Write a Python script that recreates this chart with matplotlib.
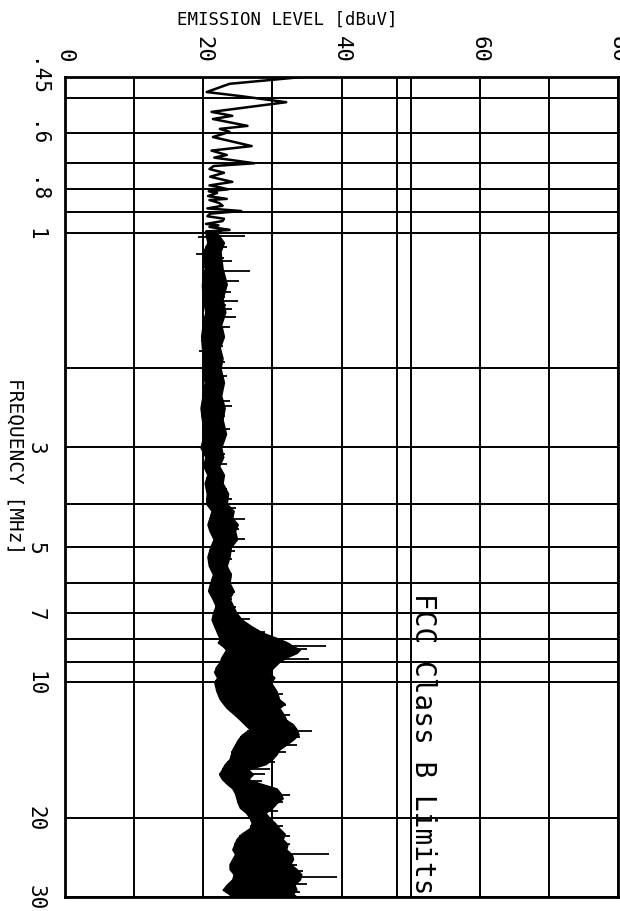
import numpy as np
import matplotlib
matplotlib.use('Agg')
import matplotlib.pyplot as plt

plt.rcParams['font.family'] = ['DejaVu Sans Mono']

# trace below 1 MHz, read as a single line (MHz, dBuV)
low_mhz = [0.450, 0.466, 0.486, 0.496, 0.512, 0.538, 0.549, 0.558, 0.578, 0.587,
           0.596, 0.612, 0.641, 0.656, 0.671, 0.680, 0.700, 0.710, 0.721, 0.735,
           0.750, 0.760, 0.770, 0.784, 0.792, 0.800, 0.808, 0.815, 0.828, 0.840,
           0.845, 0.858, 0.870, 0.882, 0.894, 0.906, 0.918, 0.930, 0.941, 0.955,
           0.962, 0.970, 0.978, 0.985, 0.993, 1.000]
low_db = [34.3, 23.8, 20.5, 25.3, 32.0, 21.2, 24.2, 21.4, 26.4, 22.4,
          23.8, 21.4, 27.0, 21.2, 23.4, 21.6, 27.4, 21.5, 20.9, 23.0,
          21.0, 22.6, 24.2, 20.9, 22.4, 23.6, 20.8, 22.0, 20.7, 23.4,
          20.9, 22.3, 22.8, 20.6, 25.5, 21.0, 20.6, 23.0, 22.8, 20.4,
          22.2, 20.9, 22.6, 23.8, 20.4, 22.5]

# envelope of the dense part of the sweep (MHz, lower dBuV, upper dBuV)
env_mhz = [1.0, 1.05, 1.1, 1.2, 1.3, 1.4, 1.5, 1.6, 1.7, 1.8,
           1.9, 2.0, 2.15, 2.3, 2.45, 2.6, 2.8, 3.0, 3.15, 3.3,
           3.45, 3.6, 3.8, 4.0, 4.15, 4.3, 4.45, 4.6, 4.8, 5.0,
           5.25, 5.5, 5.75, 6.0, 6.25, 6.5, 6.75, 7.0, 7.25, 7.5,
           7.75, 8.0, 8.15, 8.3, 8.45, 8.6, 8.8, 9.0, 9.25, 9.5,
           9.75, 10.0, 10.45, 10.9, 11.15, 11.4, 11.75, 12.1, 12.4, 12.7,
           13.05, 13.4, 13.75, 14.1, 14.45, 14.8, 15.2, 15.6, 16.0, 16.4,
           16.8, 17.2, 17.65, 18.1, 18.55, 19.0, 19.5, 20.0, 20.55, 21.1,
           21.7, 22.3, 22.9, 23.5, 24.1, 24.7, 25.35, 26.0, 26.7, 27.4,
           28.15, 28.9, 29.45, 30.0]
env_lo = [20.3, 20.6, 20.0, 20.2, 19.8, 19.9, 20.3, 19.9, 19.7, 19.8,
          20.1, 19.8, 20.2, 19.9, 19.6, 19.8, 20.1, 19.6, 20.3, 20.0,
          20.6, 20.2, 20.5, 20.4, 21.2, 20.9, 20.6, 20.9, 21.5, 21.0,
          20.6, 20.8, 21.4, 21.0, 20.7, 21.3, 21.8, 21.4, 21.2, 21.6,
          22.0, 22.4, 22.1, 22.8, 23.3, 23.0, 22.6, 22.4, 21.8, 21.6,
          22.0, 21.6, 21.9, 22.4, 22.9, 23.4, 24.4, 25.3, 26.0, 26.7,
          25.6, 25.0, 24.6, 24.2, 24.0, 23.8, 23.1, 22.7, 22.3, 22.7,
          23.4, 24.2, 24.6, 24.8, 25.0, 25.3, 26.2, 26.7, 27.0, 26.7,
          25.5, 24.8, 24.5, 24.2, 24.6, 24.2, 23.8, 23.8, 24.4, 24.2,
          23.4, 22.8, 23.6, 24.2]
env_hi = [22.0, 23.0, 22.5, 22.8, 23.4, 22.8, 23.2, 22.6, 23.0, 22.4,
          22.8, 22.5, 23.0, 22.6, 23.1, 22.8, 23.3, 22.6, 22.9, 22.3,
          23.0, 22.8, 23.6, 23.4, 24.4, 24.2, 25.0, 24.6, 24.9, 24.0,
          23.8, 23.4, 24.0, 23.8, 24.4, 23.8, 24.3, 24.8, 25.6, 27.0,
          28.6, 31.0, 32.2, 33.0, 34.0, 33.5, 32.0, 31.0, 30.2, 29.5,
          30.3, 29.8, 30.6, 31.0, 31.8, 31.0, 31.6, 32.0, 33.0, 33.5,
          33.8, 33.0, 32.0, 31.0, 30.6, 30.0, 29.0, 26.5, 27.2, 26.5,
          28.4, 30.6, 31.2, 31.5, 30.6, 30.0, 29.0, 29.6, 30.4, 31.0,
          31.8, 31.5, 32.2, 32.0, 32.8, 33.0, 32.6, 33.5, 34.2, 34.0,
          33.2, 33.5, 33.0, 33.5]

# single spikes sticking out of the band (MHz, peak dBuV)
spike_mhz = [1.016, 1.02, 1.045, 1.075, 1.114, 1.135, 1.155, 1.19, 1.216, 1.25,
             1.279, 1.32, 1.354, 1.39, 1.417, 1.45, 1.476, 1.51, 1.538, 1.58,
             1.619, 1.66, 1.695, 1.74, 1.785, 1.83, 1.878, 1.94, 2.08, 2.2,
             2.37, 2.43, 2.55, 2.73, 2.85, 3.0, 3.1, 3.27, 3.5, 3.72,
             3.91, 4.1, 4.33, 4.55, 4.80, 5.1, 5.31, 5.74, 6.0, 6.3,
             6.52, 6.8, 7.0, 7.22, 7.72, 8.02, 8.29, 8.42, 8.87, 9.2,
             9.5, 9.9, 10.6, 11.2, 11.8, 12.4, 12.8, 13.2, 13.8, 14.3,
             15.0, 15.6, 16.0, 16.6, 17.8, 18.4, 19.3, 20.9, 22.0, 22.9,
             24.1, 25.4, 26.2, 27.1, 28.0, 29.2]
spike_db = [26.0, 19.3, 22.8, 23.5, 19.0, 23.0, 24.2, 22.9, 26.7, 23.2,
            25.2, 22.8, 24.0, 23.1, 25.0, 23.3, 24.2, 23.0, 24.8, 22.9,
            23.8, 23.0, 22.9, 22.6, 22.9, 19.4, 22.6, 23.2, 23.5, 23.0,
            23.8, 24.1, 23.2, 23.8, 22.8, 19.3, 23.1, 23.4, 23.0, 23.5,
            24.2, 24.8, 26.0, 25.2, 26.0, 24.6, 24.2, 24.2, 25.3, 24.6,
            24.2, 24.8, 25.0, 26.7, 29.0, 32.5, 37.8, 35.0, 35.3, 30.5,
            30.0, 29.9, 31.5, 32.0, 32.6, 33.0, 35.8, 34.0, 33.6, 32.0,
            30.4, 29.6, 29.0, 28.5, 32.5, 31.5, 30.8, 31.5, 32.6, 32.5,
            38.2, 33.5, 34.5, 39.4, 35.0, 34.0]

limit_mhz = [0.45, 30]
limit_db = [48, 48]

grid_db = [0, 10, 20, 30, 40, 50, 60, 70, 80]
grid_mhz = [0.45, 0.5, 0.6, 0.7, 0.8, 0.9, 1, 2, 3, 4, 5, 6, 7, 8, 9, 10, 20, 30]
xtick_db = [0, 20, 40, 60, 80]
ytick_mhz = [0.45, 0.6, 0.8, 1, 3, 5, 7, 10, 20, 30]
ytick_labels = ['.45', '.6', '.8', '1', '3', '5', '7', '10', '20', '30']

fig = plt.figure(figsize=(6.2, 9.12), dpi=100)
ax = fig.add_axes([65 / 620, 1 - 898 / 912, 553 / 620, 820 / 912])

ax.set_yscale('log')
ax.set_xlim(0, 80)
ax.set_ylim(30, 0.45)

for v in grid_db:
    ax.axvline(v, color='black', lw=1.4, zorder=1)
for f in grid_mhz:
    ax.axhline(f, color='black', lw=1.4, zorder=1)

ax.plot(limit_db, limit_mhz, color='black', lw=1.4, zorder=2)
ax.text(49.8, 6.29, 'FCC Class B Limits', rotation=-90, ha='left', va='top',
        fontsize=20, zorder=0)

ax.plot(low_db, low_mhz, color='black', lw=1.8, zorder=3)
ax.fill_betweenx(env_mhz, env_lo, env_hi, color='black', lw=1.0, zorder=3)
base = np.interp(np.log(spike_mhz), np.log(env_mhz), env_lo)
ax.hlines(spike_mhz, base, spike_db, color='black', lw=1.3, zorder=3)

ax.xaxis.tick_top()
ax.set_xticks(xtick_db)
ax.set_xticklabels([str(v) for v in xtick_db], rotation=-90, fontsize=16)
ax.yaxis.set_minor_locator(matplotlib.ticker.NullLocator())
ax.set_yticks(ytick_mhz)
ax.set_yticklabels(ytick_labels, rotation=-90, fontsize=15, va='center')
ax.tick_params(axis='both', length=0)
ax.tick_params(axis='x', pad=11)
ax.tick_params(axis='y', pad=14)
for s in ax.spines.values():
    s.set_linewidth(2)

fig.text(287 / 620, 1 - 20 / 912, 'EMISSION LEVEL [dBuV]', ha='center', va='center',
         fontsize=12.5)
fig.text(15 / 620, 1 - 466 / 912, 'FREQUENCY [MHz]', ha='center', va='center',
         rotation=-90, fontsize=14)

fig.savefig('out.png', dpi=100)
